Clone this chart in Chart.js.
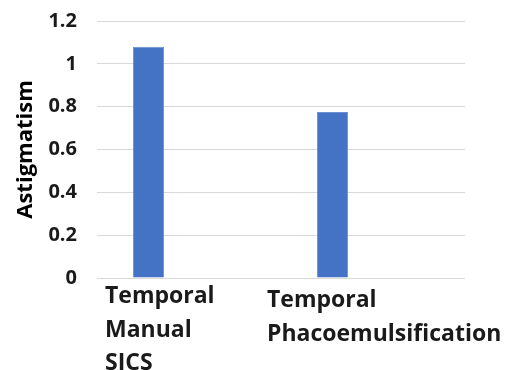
<!DOCTYPE html>
<html><head><meta charset="utf-8">
<script src="https://cdn.jsdelivr.net/npm/chart.js@4.4.0/dist/chart.umd.min.js"></script>
<style>html,body{margin:0;padding:0;background:#fff}#c{display:block}</style>
</head><body>
<canvas id="c" width="507" height="370"></canvas>
<script>
const categories = [["Temporal", "Manual", "SICS"], ["Temporal", "Phacoemulsification"]];
const astigmatism = [1.08, 0.775];
const yTicks = [0, 0.2, 0.4, 0.6, 0.8, 1, 1.2];
const yTitle = "Astigmatism";

const FONT = "'Open Sans', sans-serif";
const labelPlugin = {
  id: 'catLabels',
  afterDraw(chart) {
    const ctx = chart.ctx, sx = chart.scales.x;
    const dx = [-84, -106], dy = [25, 29];
    ctx.save();
    ctx.font = "bold 23px " + FONT;
    ctx.fillStyle = "#1a1a1a";
    ctx.textAlign = "left";
    ctx.textBaseline = "alphabetic";
    categories.forEach((lines, i) => {
      const x = sx.getPixelForTick(i) + dx[i];
      lines.forEach((t, j) => ctx.fillText(t, x, chart.chartArea.bottom + dy[i] + j * 33.5));
    });
    ctx.restore();
  }
};

new Chart(document.getElementById('c'), {
  type: 'bar',
  data: {
    labels: categories.map(l => l.join(' ')),
    datasets: [
      { label: yTitle, data: astigmatism, backgroundColor: '#4472C4', borderColor: '#6a8fd4', borderWidth: 1,
        categoryPercentage: 0.88, barPercentage: 0.385 },
      { label: 'spacer', data: [], backgroundColor: 'rgba(0,0,0,0)',
        categoryPercentage: 0.88, barPercentage: 0.385 }
    ]
  },
  options: {
    responsive: false, animation: false,
    layout: { padding: { left: 13, right: 42, top: 21, bottom: 0 } },
    plugins: { legend: { display: false }, tooltip: { enabled: false } },
    scales: {
      x: {
        grid: { display: false }, border: { display: false },
        ticks: { display: false },
        afterFit(s) { s.height = 92; s.paddingLeft = 0; s.paddingRight = 0; }
      },
      y: {
        min: 0, max: 1.2,
        afterBuildTicks(s) { s.ticks = yTicks.map(v => ({ value: v })); },
        grid: { color: '#d9d9d9', lineWidth: 1, drawTicks: false },
        border: { display: false },
        ticks: { font: { family: FONT, size: 20, weight: 'bold' }, color: '#1a1a1a', padding: 20,
          callback: v => String(v) },
        title: { display: true, text: yTitle, font: { family: FONT, size: 22, weight: 'bold' }, color: '#000', padding: { top: 0, bottom: 0 } },
        afterFit(s) { s.width = 84; s.paddingTop = 0; s.paddingBottom = 0; }
      }
    }
  },
  plugins: [labelPlugin]
});
</script>
</body></html>
